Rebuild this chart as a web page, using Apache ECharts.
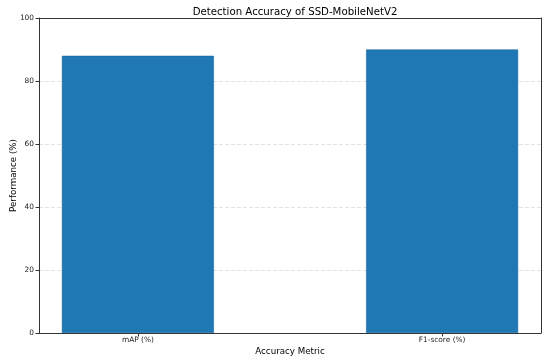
<!DOCTYPE html>
<html>
<head>
<meta charset="utf-8">
<script src="https://cdn.jsdelivr.net/npm/echarts@6/dist/echarts.min.js"></script>
<style>html,body{margin:0;padding:0;background:#fff}#c{width:550px;height:360px}</style>
</head>
<body>
<div id="c"></div>
<script>
const categories = ['mAP (%)', 'F1-score (%)'];
const values = [88, 90];
const yTicks = [0, 20, 40, 60, 80, 100];

const font = 'DejaVu Sans';
const chart = echarts.init(document.getElementById('c'), null, {renderer: 'canvas'});
const positions = categories.map((_, i) => i);
const frameLine = {show: true, onZero: false, lineStyle: {color: '#333', width: 1}};
chart.setOption({
  animation: false,
  backgroundColor: '#fff',
  title: {
    text: 'Detection Accuracy of SSD-MobileNetV2',
    left: 290, top: 2, textAlign: 'center',
    textStyle: {fontFamily: font, fontSize: 10.2, fontWeight: 'normal', color: '#000'}
  },
  grid: {left: 39, right: 9, top: 18, bottom: 27, outerBoundsMode: 'none', containLabel: false},
  xAxis: [{
    type: 'value', min: -0.325, max: 1.325,
    name: 'Accuracy Metric', nameLocation: 'middle', nameGap: 14, nameMoveOverlap: false,
    nameTextStyle: {fontFamily: font, fontSize: 8.7, color: '#000'},
    axisLine: frameLine,
    axisTick: {show: true, customValues: positions, length: 3.5, lineStyle: {color: '#333'}},
    axisLabel: {customValues: positions, formatter: v => categories[Math.round(v)], fontFamily: font, fontSize: 7.4, color: '#222', margin: 4},
    splitLine: {show: false}
  }, {
    type: 'value', position: 'top', min: -0.325, max: 1.325,
    axisLine: frameLine, axisTick: {show: false}, axisLabel: {show: false}, splitLine: {show: false}
  }],
  yAxis: [{
    type: 'value', min: yTicks[0], max: yTicks[yTicks.length - 1], interval: 20,
    name: 'Performance (%)', nameLocation: 'middle', nameGap: 21, nameMoveOverlap: false,
    nameTextStyle: {fontFamily: font, fontSize: 8.7, color: '#000'},
    axisLine: frameLine,
    axisTick: {show: true, length: 3.5, lineStyle: {color: '#333'}},
    axisLabel: {fontFamily: font, fontSize: 7.4, color: '#222', margin: 5},
    splitLine: {show: true, lineStyle: {color: '#dcdcdc', type: [4, 2], width: 0.8}}
  }, {
    type: 'value', position: 'right', min: 0, max: 100, interval: 20,
    axisLine: frameLine, axisTick: {show: false}, axisLabel: {show: false}, splitLine: {show: false}
  }],
  series: [{
    type: 'bar',
    xAxisIndex: 0, yAxisIndex: 0,
    data: values.map((v, i) => [positions[i], v]),
    barWidth: 152,
    itemStyle: {color: '#1f77b4', borderColor: '#1b669c', borderWidth: 0.6}
  }]
});
</script>
</body>
</html>
